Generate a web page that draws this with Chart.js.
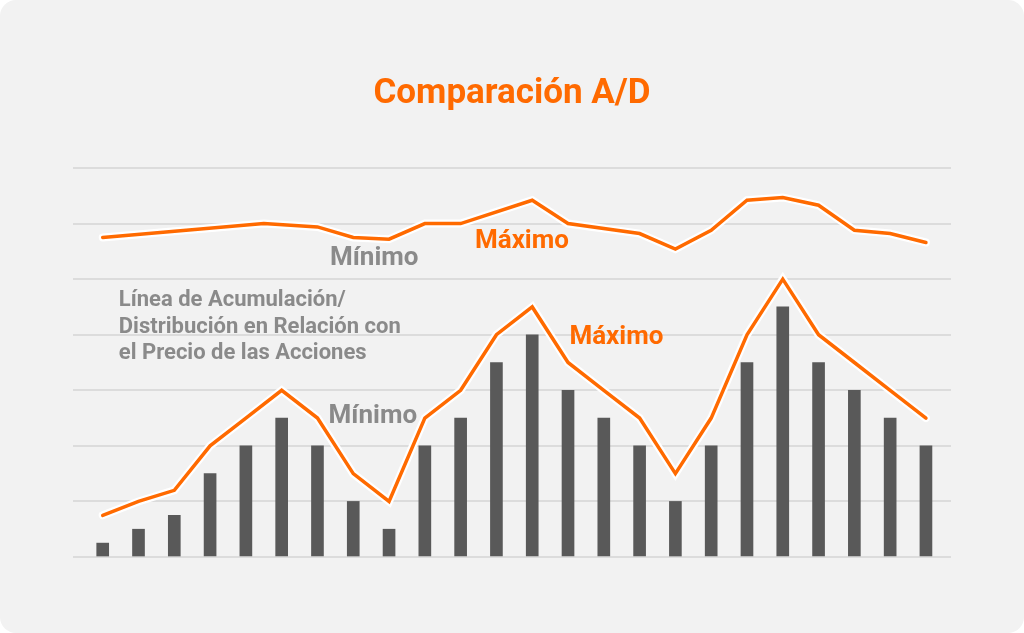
<!DOCTYPE html>
<html>
<head>
<meta charset="utf-8">
<script src="https://cdn.jsdelivr.net/npm/chart.js@4.4.1/dist/chart.umd.min.js"></script>
<style>
  html, body { margin: 0; padding: 0; background: #ffffff; }
  #card { position: absolute; left: 0; top: 0; width: 1024px; height: 633px; background: #f2f2f2; border-radius: 16px; overflow: hidden; }
  canvas { display: block; }
</style>
</head>
<body>
<div id="card"><canvas id="c" width="1024" height="633"></canvas></div>
<script>
// Category indices (sessions)
const sessions = [0,1,2,3,4,5,6,7,8,9,10,11,12,13,14,15,16,17,18,19,20,21,22,23];
// Bar values (A/D volume bars)
const barValues = [2.5,5,7.5,15,20,25,20,10,5,20,25,35,40,30,25,20,10,20,35,45,35,30,25,20];
// Lower orange line: share price
const priceValues = [7.5,10,12,20,25,30,25,15,10,25,30,40,45,35,30,25,15,25,40,50,40,35,30,25];
// Upper orange line: A/D line (x positions and values)
const adX = [0,4.5,6,7,8,9,10,12,13,15,16,17,18,19,20,21,22,23];
const adValues = [57.5,60,59.4,57.5,57.2,60,60,64.2,60,58.2,55.4,58.8,64.2,64.7,63.3,58.8,58.2,56.6];
// Y axis ticks
const yTicks = [0,10,20,30,40,50,60,70];
// Texts
const titleText = 'Comparación A/D';
const noteLines = ['Línea de Acumulación/', 'Distribución en Relación con', 'el Precio de las Acciones'];
const labels = [
  { text: 'Mínimo', x: 6.35, y: 52.5, color: '#8a8a8a' },
  { text: 'Máximo', x: 10.4, y: 55.6, color: '#ff6a00' },
  { text: 'Mínimo', x: 6.31, y: 24.1, color: '#8a8a8a' },
  { text: 'Máximo', x: 13.04, y: 38.3, color: '#ff6a00' }
];
const noteBaselines = [45.2, 40.3, 35.6];
const noteX = 0.45;

const ORANGE = '#ff6a00';
const GRAY_BAR = '#595959';

const pricePts = sessions.map((s, i) => ({ x: s, y: priceValues[i] }));
const adPts = adX.map((s, i) => ({ x: s, y: adValues[i] }));
const barPts = sessions.map((s, i) => ({ x: s, y: barValues[i] }));

const textPlugin = {
  id: 'texts',
  afterDatasetsDraw(chart) {
    const ctx = chart.ctx;
    const xs = chart.scales.x, ys = chart.scales.y;
    ctx.save();
    ctx.textBaseline = 'alphabetic';
    ctx.textAlign = 'left';
    ctx.font = 'bold 26px Roboto';
    labels.forEach(l => {
      ctx.fillStyle = l.color;
      ctx.fillText(l.text, xs.getPixelForValue(l.x), ys.getPixelForValue(l.y));
    });
    ctx.font = 'bold 22px Roboto';
    ctx.fillStyle = '#8a8a8a';
    noteLines.forEach((t, i) => {
      ctx.fillText(t, xs.getPixelForValue(noteX), ys.getPixelForValue(noteBaselines[i]));
    });
    ctx.restore();
  }
};

const lineCommon = {
  type: 'line',
  pointRadius: 0,
  pointHoverRadius: 0,
  tension: 0,
  borderCapStyle: 'round',
  borderJoinStyle: 'miter',
  fill: false
};

new Chart(document.getElementById('c'), {
  type: 'bar',
  data: {
    datasets: [
      Object.assign({}, lineCommon, { data: adPts, borderColor: ORANGE, borderWidth: 3.5, order: 1 }),
      Object.assign({}, lineCommon, { data: adPts, borderColor: '#ffffff', borderWidth: 8, order: 2 }),
      Object.assign({}, lineCommon, { data: pricePts, borderColor: ORANGE, borderWidth: 3.5, order: 3 }),
      Object.assign({}, lineCommon, { data: pricePts, borderColor: '#ffffff', borderWidth: 8, order: 4 }),
      { type: 'bar', data: barPts, backgroundColor: GRAY_BAR, barThickness: 12, order: 5 }
    ]
  },
  options: {
    responsive: false,
    animation: false,
    events: [],
    layout: { padding: { left: 73, right: 73, top: 0, bottom: 76 } },
    plugins: {
      legend: { display: false },
      tooltip: { enabled: false },
      title: {
        display: true,
        text: titleText,
        color: ORANGE,
        font: { family: 'Roboto', size: 35, weight: 'bold', lineHeight: 1.2 },
        padding: { top: 73, bottom: 53 }
      }
    },
    scales: {
      x: {
        type: 'linear',
        display: false,
        offset: false,
        min: -0.83,
        max: 23.7,
        grid: { display: false, offset: false }
      },
      y: {
        min: 0,
        max: 70,
        afterBuildTicks(scale) { scale.ticks = yTicks.map(v => ({ value: v })); },
        ticks: { display: false },
        border: { display: false },
        grid: { color: '#dcdcdc', lineWidth: 2, drawTicks: false }
      }
    }
  },
  plugins: [textPlugin]
});
</script>
</body>
</html>
